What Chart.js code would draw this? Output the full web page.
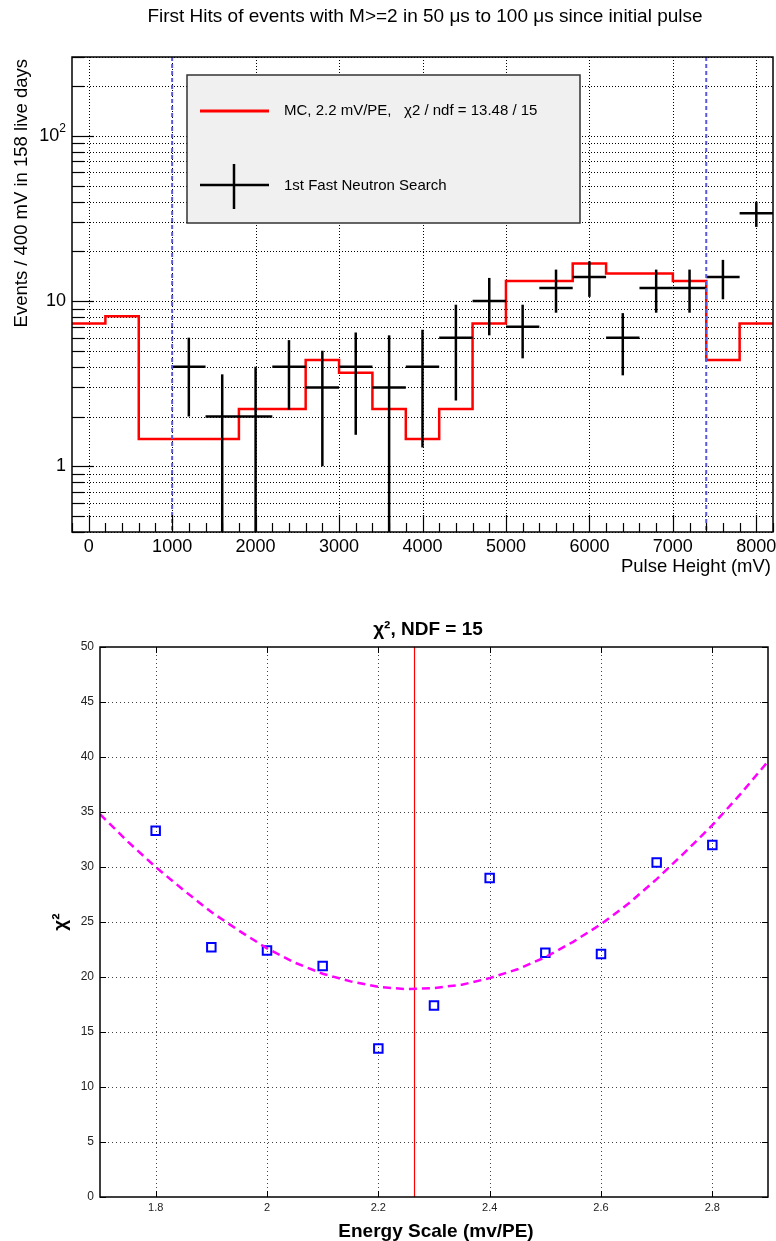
<!DOCTYPE html>
<html>
<head>
<meta charset="utf-8">
<script src="https://cdn.jsdelivr.net/npm/chart.js@4.4.0/dist/chart.umd.min.js"></script>
<style>
html, body { margin: 0; padding: 0; background: #fff; }
#wrap { position: relative; width: 776px; height: 1241px; }
canvas { position: absolute; left: 0; }
#hist { top: 0; }
#chi { top: 590px; }
</style>
</head>
<body>
<div id="wrap">
<canvas id="hist" width="776" height="590"></canvas>
<canvas id="chi" width="776" height="651"></canvas>
</div>
<script>
// --- top plot: pulse height spectrum ---
const binWidth = 400;
const binCenters = [0, 400, 800, 1200, 1600, 2000, 2400, 2800, 3200, 3600, 4000, 4400, 4800, 5200, 5600, 6000, 6400, 6800, 7200, 7600, 8000];
const mcCounts = [7.3, 8.1, 1.46, 1.46, 1.46, 2.22, 2.22, 4.39, 3.68, 2.22, 1.46, 2.22, 7.3, 13.2, 13.2, 16.9, 14.7, 14.7, 13.2, 4.39, 7.3];
const dataCenters = [1200, 1600, 2000, 2400, 2800, 3200, 3600, 4000, 4400, 4800, 5200, 5600, 6000, 6400, 6800, 7200, 7600, 8000];
const dataCounts = [4, 2, 2, 4, 3, 4, 3, 4, 6, 10, 7, 12, 14, 6, 12, 12, 14, 34];
const dataErrors = [2.0, 1.6, 2.0, 1.8, 2.0, 2.45, 3.2, 2.7, 3.5, 3.8, 2.5, 3.5, 3.4, 2.45, 3.5, 3.5, 3.75, 5.9];
const cutLines = [1000, 7400];
const pulseTicks = [0, 1000, 2000, 3000, 4000, 5000, 6000, 7000, 8000];
const logLabels = [1, 10, 100];

// --- bottom plot: chi2 scan ---
const energyScale = [1.8, 1.9, 2.0, 2.1, 2.2, 2.3, 2.4, 2.5, 2.6, 2.7, 2.8];
const chi2Values = [33.3, 22.7, 22.4, 21.0, 13.5, 17.4, 29.0, 22.2, 22.1, 30.4, 32.0];
const fitScale = [1.70, 1.75, 1.80, 1.85, 1.90, 1.95, 2.00, 2.05, 2.10, 2.15, 2.20, 2.25, 2.30, 2.35, 2.40, 2.45, 2.50, 2.55, 2.60, 2.65, 2.70, 2.75, 2.80, 2.85, 2.90];
const fitChi2 = [34.8, 32.3, 30.0, 27.9, 25.9, 24.2, 22.6, 21.3, 20.3, 19.6, 19.1, 18.9, 19.0, 19.3, 19.9, 20.7, 21.8, 23.2, 24.8, 26.7, 28.9, 31.3, 33.8, 36.6, 39.6];
const bestScale = 2.265;
const chiTicksX = [1.8, 2, 2.2, 2.4, 2.6, 2.8];
const chiTicksY = [0, 5, 10, 15, 20, 25, 30, 35, 40, 45, 50];

const FONT = '"Liberation Sans", Arial, sans-serif';

function seg(ctx, x1, y1, x2, y2) {
    ctx.beginPath();
    ctx.moveTo(x1, y1);
    ctx.lineTo(x2, y2);
    ctx.stroke();
}

function logTicks(min, max) {
    const out = [];
    for (let d = 0.1; d <= 1000; d *= 10) {
        for (let m = 1; m <= 9; m++) {
            const v = Math.round(m * d * 1000) / 1000;
            if (v >= min && v <= max) out.push(v);
        }
    }
    return out;
}

const histPlugin = {
    id: "histDecor",
    beforeDatasetsDraw(chart) {
        const { ctx, chartArea: a, scales: { x, y } } = chart;
        ctx.save();
        ctx.strokeStyle = "#000";
        ctx.lineWidth = 1;
        ctx.setLineDash([1, 2]);
        pulseTicks.forEach(v => {
            const px = Math.round(x.getPixelForValue(v)) + 0.5;
            seg(ctx, px, a.top, px, a.bottom);
        });
        logTicks(y.min, y.max).forEach(v => {
            const py = Math.round(y.getPixelForValue(v)) + 0.5;
            seg(ctx, a.left, py, a.right, py);
        });
        ctx.restore();
    },
    afterDatasetsDraw(chart) {
        const { ctx, chartArea: a, scales: { x, y } } = chart;
        ctx.save();
        ctx.beginPath();
        ctx.rect(a.left, a.top, a.width, a.height);
        ctx.clip();

        // data crosses
        ctx.strokeStyle = "#000";
        ctx.lineWidth = 2.5;
        dataCenters.forEach((c, i) => {
            const px = x.getPixelForValue(c);
            const py = y.getPixelForValue(dataCounts[i]);
            const lo = dataCounts[i] - dataErrors[i];
            const pyLo = lo > y.min ? y.getPixelForValue(lo) : a.bottom;
            const pyHi = y.getPixelForValue(dataCounts[i] + dataErrors[i]);
            seg(ctx, x.getPixelForValue(c - binWidth / 2), py, x.getPixelForValue(c + binWidth / 2), py);
            seg(ctx, px, pyHi, px, pyLo);
        });

        // analysis window
        ctx.strokeStyle = "#5a5ae0";
        ctx.lineWidth = 2;
        ctx.setLineDash([4, 3]);
        cutLines.forEach(v => {
            const px = x.getPixelForValue(v);
            seg(ctx, px, a.top, px, a.bottom);
        });
        ctx.restore();

        ctx.save();
        // frame
        ctx.strokeStyle = "#000";
        ctx.lineWidth = 1.5;
        ctx.strokeRect(a.left, a.top, a.width, a.height);

        // ticks
        ctx.lineWidth = 1.2;
        for (let v = -200; v <= 8200; v += 200) {
            const px = Math.round(x.getPixelForValue(v)) + 0.5;
            const len = v % 1000 === 0 ? 17 : 9;
            seg(ctx, px, a.bottom, px, a.bottom - len);
        }
        logTicks(y.min, y.max).forEach(v => {
            const py = Math.round(y.getPixelForValue(v)) + 0.5;
            const len = logLabels.includes(v) ? 22 : 12;
            seg(ctx, a.left, py, a.left + len, py);
        });

        // tick labels
        ctx.fillStyle = "#000";
        ctx.font = "18px " + FONT;
        ctx.textAlign = "center";
        ctx.textBaseline = "top";
        pulseTicks.forEach(v => ctx.fillText(String(v), x.getPixelForValue(v), a.bottom + 6));
        ctx.textAlign = "right";
        ctx.textBaseline = "middle";
        logLabels.forEach(v => {
            const py = y.getPixelForValue(v);
            if (v === 100) {
                ctx.font = "12px " + FONT;
                ctx.fillText("2", a.left - 6, py - 7);
                const w = ctx.measureText("2").width;
                ctx.font = "18px " + FONT;
                ctx.fillText("10", a.left - 6 - w, py);
            } else {
                ctx.fillText(String(v), a.left - 6, py);
            }
        });

        // axis titles
        ctx.font = "18.5px " + FONT;
        ctx.textAlign = "right";
        ctx.textBaseline = "alphabetic";
        ctx.fillText("Pulse Height (mV)", a.right - 2, a.bottom + 40);
        ctx.save();
        ctx.translate(27, a.top + 2);
        ctx.rotate(-Math.PI / 2);
        ctx.textAlign = "right";
        ctx.fillText("Events / 400 mV in 158 live days", 0, 0);
        ctx.restore();

        // title
        ctx.font = "19px " + FONT;
        ctx.textAlign = "center";
        ctx.textBaseline = "middle";
        ctx.fillText("First Hits of events with M>=2 in 50 \u03bcs to 100 \u03bcs since initial pulse", 425, 17);

        // legend box
        const lx = 187, ly = 75, lw = 393, lh = 148;
        ctx.fillStyle = "#f0f0f0";
        ctx.fillRect(lx, ly, lw, lh);
        ctx.strokeStyle = "#333";
        ctx.lineWidth = 1.5;
        ctx.strokeRect(lx, ly, lw, lh);
        ctx.strokeStyle = "#ff0000";
        ctx.lineWidth = 3;
        seg(ctx, lx + 13, ly + 36, lx + 82, ly + 36);
        ctx.strokeStyle = "#000";
        ctx.lineWidth = 2.5;
        seg(ctx, lx + 13, ly + 110, lx + 82, ly + 110);
        seg(ctx, lx + 47, ly + 89, lx + 47, ly + 134);
        ctx.fillStyle = "#000";
        ctx.font = "15px " + FONT;
        ctx.textAlign = "left";
        ctx.textBaseline = "middle";
        ctx.fillText("MC, 2.2 mV/PE,   \u03c72 / ndf = 13.48 / 15", lx + 97, ly + 36);
        ctx.fillText("1st Fast Neutron Search", lx + 97, ly + 111);
        ctx.restore();
    }
};

// histogram drawn as steps from the left bin edges
const mcSteps = binCenters.map((c, i) => ({ x: c - binWidth / 2, y: mcCounts[i] }));
mcSteps.push({ x: binCenters[binCenters.length - 1] + binWidth / 2, y: mcCounts[mcCounts.length - 1] });

new Chart(document.getElementById("hist"), {
    type: "line",
    data: {
        datasets: [{
            label: "MC, 2.2 mV/PE",
            data: mcSteps,
            stepped: "before",
            borderColor: "#ff0000",
            borderWidth: 2.5,
            pointRadius: 0,
            fill: false
        }, {
            label: "1st Fast Neutron Search",
            data: dataCenters.map((c, i) => ({ x: c, y: dataCounts[i] })),
            showLine: false,
            pointRadius: 0
        }]
    },
    options: {
        responsive: false,
        devicePixelRatio: 1,
        animation: false,
        layout: { padding: { left: 72, top: 57, right: 3, bottom: 58 } },
        scales: {
            x: { type: "linear", min: -200, max: 8200, display: false },
            y: { type: "logarithmic", min: 0.4, max: 300, display: false }
        },
        plugins: { legend: { display: false }, tooltip: { enabled: false } }
    },
    plugins: [histPlugin]
});

const chiPlugin = {
    id: "chiDecor",
    beforeDatasetsDraw(chart) {
        const { ctx, chartArea: a, scales: { x, y } } = chart;
        ctx.save();
        ctx.strokeStyle = "#444";
        ctx.lineWidth = 1;
        ctx.setLineDash([1, 3]);
        chiTicksX.forEach(v => {
            const px = Math.round(x.getPixelForValue(v)) + 0.5;
            seg(ctx, px, a.top, px, a.bottom);
        });
        chiTicksY.slice(1, -1).forEach(v => {
            const py = Math.round(y.getPixelForValue(v)) + 0.5;
            seg(ctx, a.left, py, a.right, py);
        });
        ctx.setLineDash([]);
        ctx.strokeStyle = "#ff0000";
        ctx.lineWidth = 1.2;
        const bx = x.getPixelForValue(bestScale);
        seg(ctx, bx, a.top, bx, a.bottom);
        ctx.restore();
    },
    afterDatasetsDraw(chart) {
        const { ctx, chartArea: a, scales: { x, y } } = chart;
        ctx.save();
        ctx.strokeStyle = "#000";
        ctx.lineWidth = 1.5;
        ctx.strokeRect(a.left, a.top, a.width, a.height);
        ctx.lineWidth = 1;
        chiTicksX.forEach(v => {
            const px = Math.round(x.getPixelForValue(v)) + 0.5;
            seg(ctx, px, a.bottom, px, a.bottom - 6);
            seg(ctx, px, a.top, px, a.top + 6);
        });
        chiTicksY.forEach(v => {
            const py = Math.round(y.getPixelForValue(v)) + 0.5;
            seg(ctx, a.left, py, a.left + 6, py);
            seg(ctx, a.right, py, a.right - 6, py);
        });

        ctx.fillStyle = "#222";
        ctx.font = "11px " + FONT;
        ctx.textAlign = "center";
        ctx.textBaseline = "top";
        chiTicksX.forEach(v => ctx.fillText(String(v), x.getPixelForValue(v), a.bottom + 5));
        ctx.font = "12px " + FONT;
        ctx.textAlign = "right";
        ctx.textBaseline = "middle";
        chiTicksY.forEach(v => ctx.fillText(String(v), a.left - 6, y.getPixelForValue(v)));

        ctx.fillStyle = "#000";
        ctx.font = "bold 19px " + FONT;
        ctx.textAlign = "center";
        ctx.textBaseline = "alphabetic";
        ctx.fillText("Energy Scale (mv/PE)", 436, a.bottom + 40);
        ctx.fillText("\u03c7\u00b2, NDF = 15", 428, 45);
        ctx.save();
        ctx.translate(66, y.getPixelForValue(25));
        ctx.rotate(-Math.PI / 2);
        ctx.font = "bold 19px " + FONT;
        ctx.fillText("\u03c7\u00b2", 0, 0);
        ctx.restore();
        ctx.restore();
    }
};

new Chart(document.getElementById("chi"), {
    type: "scatter",
    data: {
        datasets: [{
            label: "fit",
            data: fitScale.map((s, i) => ({ x: s, y: fitChi2[i] })),
            showLine: true,
            borderColor: "#ff00ff",
            borderWidth: 2.5,
            borderDash: [8, 5],
            pointRadius: 0,
            order: 0
        }, {
            label: "chi2",
            data: energyScale.map((s, i) => ({ x: s, y: chi2Values[i] })),
            pointStyle: "rect",
            pointRadius: 6,
            pointBorderWidth: 2,
            borderColor: "#0000ff",
            backgroundColor: "rgba(0,0,0,0)",
            order: 1
        }]
    },
    options: {
        responsive: false,
        devicePixelRatio: 1,
        animation: false,
        layout: { padding: { left: 100, top: 57, right: 1, bottom: 44 } },
        scales: {
            x: { type: "linear", min: 1.7, max: 2.9, display: false },
            y: { type: "linear", min: 0, max: 50, display: false }
        },
        plugins: { legend: { display: false }, tooltip: { enabled: false } }
    },
    plugins: [chiPlugin]
});
</script>
</body>
</html>
